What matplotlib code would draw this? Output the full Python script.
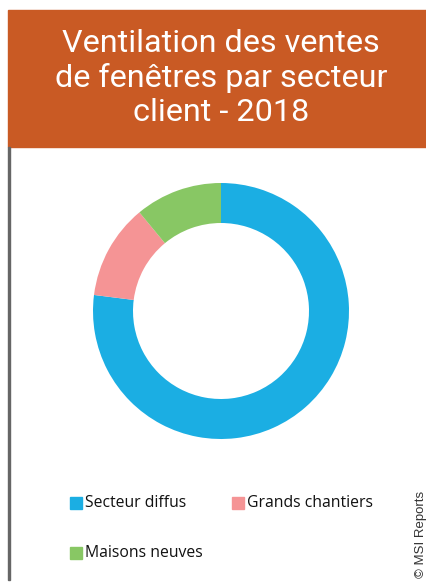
import matplotlib.pyplot as plt
from matplotlib.patches import Rectangle

labels = ['Secteur diffus', 'Grands chantiers', 'Maisons neuves']
shares = [77, 12, 11]
colors = ['#1BAEE3', '#F59495', '#88C764']
title = 'Ventilation des ventes\nde fenêtres par secteur\nclient - 2018'

W, H = 426, 582
fig = plt.figure(figsize=(W / 100, H / 100), dpi=100)

# header band + left rule
fig.patches.append(Rectangle((8 / W, 1 - 147 / H), 1 - 8 / W, 137 / H,
                             transform=fig.transFigure, color='#C95A24', zorder=0))
fig.patches.append(Rectangle((8 / W, 2 / H), 2 / W, 1 - 147 / H - 2 / H,
                             transform=fig.transFigure, color='#666666', zorder=0))
fig.text(221 / W, 1 - 78 / H, title, ha='center', va='center', color='white',
         fontsize=23.3, family='Roboto', linespacing=1.2)

# donut
R = 128
ax = fig.add_axes([(221 - R) / W, 1 - (311 + R) / H, 2 * R / W, 2 * R / H])
ax.pie(shares, colors=colors, startangle=90, counterclock=False, radius=1,
       wedgeprops=dict(width=40 / 128, linewidth=0))
ax.set_xlim(-1, 1)
ax.set_ylim(-1, 1)
ax.set_aspect('equal')
ax.axis('off')

# legend
pos = [(70, 503), (232, 503), (70, 553)]
for (x, y), lab, c in zip(pos, labels, colors):
    fig.patches.append(Rectangle((x / W, 1 - (y + 6) / H), 12 / W, 12 / H,
                                 transform=fig.transFigure, color=c))
    fig.text((x + 15) / W, 1 - y / H, lab, ha='left', va='center',
             fontsize=11.3, family='Open Sans', color='#111111')

fig.text(421 / W, 1 - 534 / H, '© MSI Reports', rotation=90, ha='center',
         va='center', fontsize=9.5, family='Liberation Sans', color='#333333')

fig.savefig('out.png', dpi=100)
